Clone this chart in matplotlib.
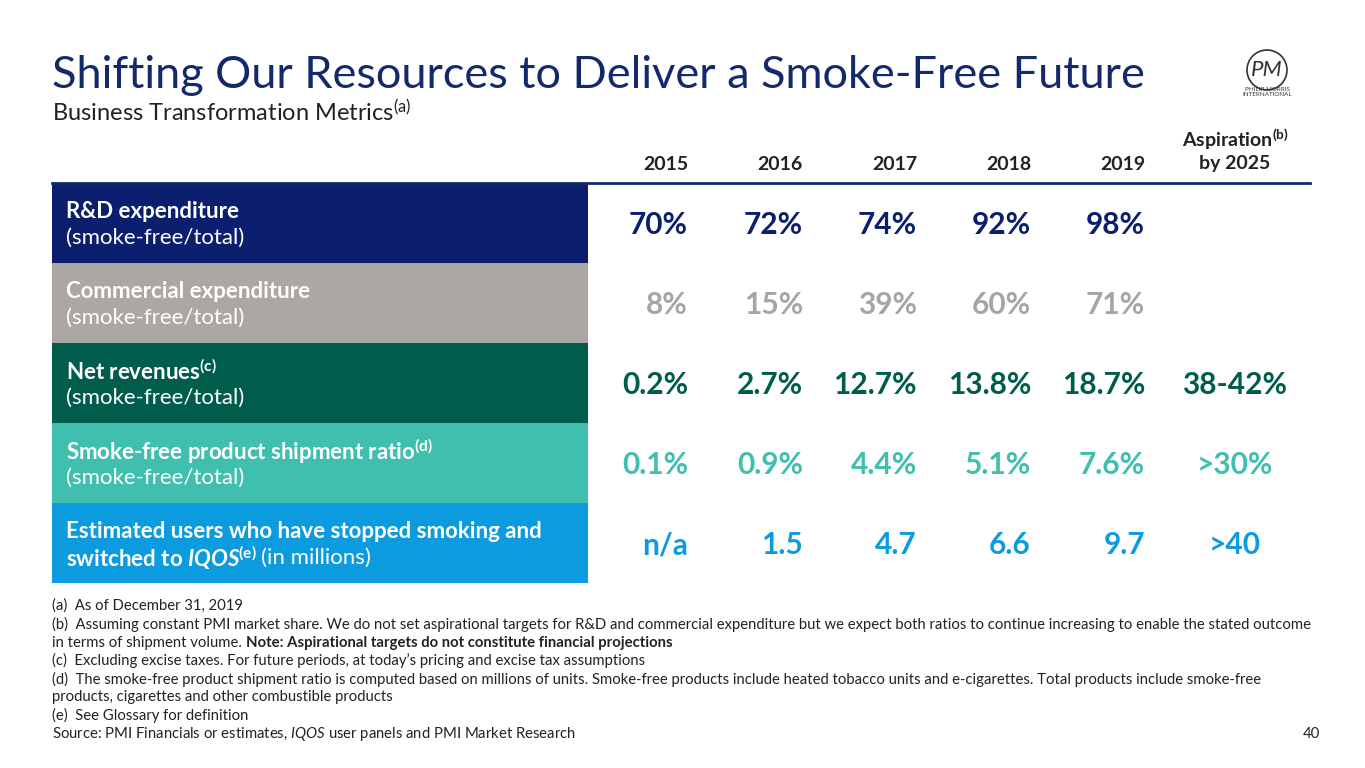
import matplotlib
matplotlib.use("Agg")
import matplotlib.pyplot as plt
from matplotlib.patches import Rectangle

plt.rcParams['font.family'] = ['Lato', 'DejaVu Sans']
plt.rcParams['mathtext.default'] = 'regular'
plt.rcParams['mathtext.fontset'] = 'custom'
plt.rcParams['mathtext.it'] = 'Lato:italic'
plt.rcParams['mathtext.bfit'] = 'Lato:italic:bold'
plt.rcParams['mathtext.rm'] = 'Lato'

years = ["2015", "2016", "2017", "2018", "2019"]
row_titles = ["R&D expenditure", "Commercial expenditure", "Net revenues$^{(c)}$",
              "Smoke-free product shipment ratio$^{(d)}$", "Estimated users who have stopped smoking and"]
row_subs = ["(smoke-free/total)", "(smoke-free/total)", "(smoke-free/total)", "(smoke-free/total)", None]
rd = ["70%", "72%", "74%", "92%", "98%", ""]
commercial = ["8%", "15%", "39%", "60%", "71%", ""]
net_rev = ["0.2%", "2.7%", "12.7%", "13.8%", "18.7%", "38-42%"]
shipment = ["0.1%", "0.9%", "4.4%", "5.1%", "7.6%", ">30%"]
users = ["n/a", "1.5", "4.7", "6.6", "9.7", ">40"]
rows = [rd, commercial, net_rev, shipment, users]
box_colors = ["#0b1f6e", "#aba7a4", "#005c4b", "#40bfae", "#0d9be0"]
val_colors = ["#0b1f6e", "#a8a4a1", "#005c4b", "#40bfae", "#0d9be0"]
navy = "#13296b"

fig = plt.figure(figsize=(13.65, 7.68), dpi=100)
ax = fig.add_axes([0, 0, 1, 1])
ax.set_xlim(0, 1365); ax.set_ylim(768, 0); ax.axis('off')

ax.text(52, 75, "Shifting Our Resources to Deliver a Smoke-Free Future", fontsize=32.5, color=navy, va='center')
ax.text(52, 113, "Business Transformation Metrics$^{(a)}$", fontsize=17, color="#222222", va='center')

# logo placeholder
ax.text(1267, 70, "PM", fontsize=16, color="#333333", ha='center', va='center', fontstyle='italic')
ax.add_patch(plt.Circle((1267, 70), 20, fill=False, ec="#333333", lw=1.2))
ax.text(1267, 92, "PHILIP MORRIS\nINTERNATIONAL", fontsize=4.5, ha='center', va='center', color="#333333")

col_x = [688, 803, 917, 1031, 1145]
asp_x = 1235
for x, y in zip(col_x, years):
    ax.text(x, 164, y, fontsize=14, fontweight='bold', ha='right', va='center', color="#222222")
ax.text(asp_x, 139, "Aspiration$^{(b)}$", fontsize=14, fontweight='bold', ha='center', va='center', color="#222222")
ax.text(asp_x, 164, "by 2025", fontsize=14, fontweight='bold', ha='center', va='center', color="#222222")
ax.plot([52, 1310], [183, 183], color=navy, lw=2)

for i in range(5):
    top = 183 + 80 * i
    ax.add_patch(Rectangle((52, top), 536, 80, color=box_colors[i], lw=0))
    ax.text(66, top + 28, row_titles[i], fontsize=16, fontweight='bold', color='white', va='center')
    if row_subs[i]:
        ax.text(66, top + 55, row_subs[i], fontsize=16, color='white', va='center')
    else:
        t = ax.text(66, top + 55, r"switched to $\mathbfit{IQOS}^{(e)}$", fontsize=16, fontweight='bold', color='white', va='center')
        fig.canvas.draw()
        bb = t.get_window_extent()
        ax.text(66 + bb.width + 4, top + 55, "(in millions)", fontsize=16, color='white', va='center')
    vals = rows[i]
    for j, x in enumerate(col_x):
        ax.text(x, top + 42, vals[j], fontsize=21.5, fontweight='bold', ha='right', va='center', color=val_colors[i])
    if vals[5]:
        ax.text(asp_x, top + 42, vals[5], fontsize=21.5, fontweight='bold', ha='center', va='center', color=val_colors[i])

notes = [
    ("(a)  As of December 31, 2019", None),
    ("(b)  Assuming constant PMI market share. We do not set aspirational targets for R&D and commercial expenditure but we expect both ratios to continue increasing to enable the stated outcome", None),
    ("in terms of shipment volume. ", "Note: Aspirational targets do not constitute financial projections"),
    ("(c)  Excluding excise taxes. For future periods, at today\u2019s pricing and excise tax assumptions", None),
    ("(d)  The smoke-free product shipment ratio is computed based on millions of units. Smoke-free products include heated tobacco units and e-cigarettes. Total products include smoke-free", None),
    ("products, cigarettes and other combustible products", None),
    ("(e)  See Glossary for definition", None),
]
fs = 10.7
y = 606
for a, b in notes:
    t = ax.text(52, y, a, fontsize=fs, color="#222222", va='center')
    if b:
        fig.canvas.draw()
        bb = t.get_window_extent()
        ax.text(52 + bb.width, y, b, fontsize=fs, fontweight='bold', color="#222222", va='center')
    y += 18.3
ax.text(52, 734, "Source: PMI Financials or estimates, $\\it{IQOS}$ user panels and PMI Market Research", fontsize=fs, color="#222222", va='center')
ax.text(1320, 734, "40", fontsize=fs, color="#222222", va='center', ha='right')

fig.savefig("out.png", dpi=100)
